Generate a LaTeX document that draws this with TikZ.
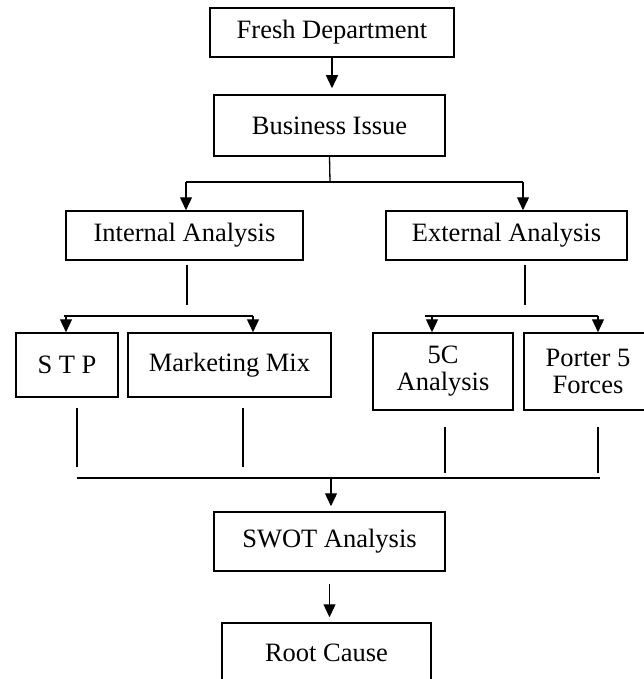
\documentclass[tikz,border=0pt]{standalone}
\usepackage{fontspec}
\setmainfont{Liberation Serif}
\usetikzlibrary{arrows.meta}

\begin{document}
\begin{tikzpicture}[x=1pt,y=1pt,yscale=-1,xscale=1,
  box/.style={draw, line width=1.5pt, inner sep=0pt, align=center, font=\fontsize{26.5}{27}\selectfont},
  con/.style={line width=1.3pt},
  arr/.style={line width=1.3pt, -{Triangle[width=12pt,length=13pt]}}]
\useasboundingbox (0,0) rectangle (644,679);

%Boxes
\node[box, minimum width=244, minimum height=49] (fresh) at (332,32.5) {Fresh Department};
\node[box, minimum width=231, minimum height=61] (issue) at (329.5,125.5) {Business Issue};
\node[box, minimum width=237, minimum height=49] (internal) at (184.5,235.5) {Internal Analysis};
\node[box, minimum width=241, minimum height=49] (external) at (506.5,235.5) {External Analysis};
\node[box, minimum width=102, minimum height=64] (stp) at (67,365) {S T P};
\node[box, minimum width=203, minimum height=64] (mix) at (229.5,365) {Marketing Mix};
\node[box, minimum width=140, minimum height=77] (fivec) at (443,371.5) {5C\\Analysis};
\node[box, minimum width=128, minimum height=77] (porter) at (588,371.5) {Porter 5\\Forces};
\node[box, minimum width=231, minimum height=59] (swot) at (329.5,541.5) {SWOT Analysis};
\node[box, minimum width=209, minimum height=59] (root) at (326.5,652.5) {Root Cause};

%Junctions
\coordinate (split) at (330,182);
\coordinate (splitL) at (186,182);
\coordinate (splitR) at (523,182);
\coordinate (intbar) at (253,316);
\coordinate (extbar) at (598,316);
\coordinate (intend) at (187,305);
\coordinate (extend) at (525,305);
\coordinate (merge) at (331,478);

%Top
\draw[arr, shorten >=6pt] (fresh.south) -- (fresh.south |- issue.north);
\draw[con] (issue.south) -- (split);
\draw[con] (splitL) -- (splitR);
\draw[arr] (splitL) -- (splitL |- internal.north);
\draw[arr] (splitR) -- (splitR |- external.north);

%Second level
\draw[con] (intend |- 0,265) -- (intend);
\draw[con] (extend |- 0,265) -- (extend);
\draw[con] (64,316) -- (intbar);
\draw[arr] (66,316) -- (66,316 |- stp.north);
\draw[arr] (intbar) -- (intbar |- mix.north);
\draw[con] (425,316) -- (extbar);
\draw[arr] (432,316) -- (432,316 |- fivec.north);
\draw[arr] (extbar) -- (extbar |- porter.north);

%Merge
\draw[con] (77,408) -- (77,467);
\draw[con] (243,408) -- (243,467);
\draw[con] (445,427) -- (445,473);
\draw[con] (598,427) -- (598,473);
\draw[con] (77,478) -- (600,478);
\draw[arr, shorten >=5pt] (merge) -- (merge |- swot.north);
\draw[arr, shorten <=12pt, shorten >=5pt] (swot.south) -- (swot.south |- root.north);

\end{tikzpicture}
\end{document}
